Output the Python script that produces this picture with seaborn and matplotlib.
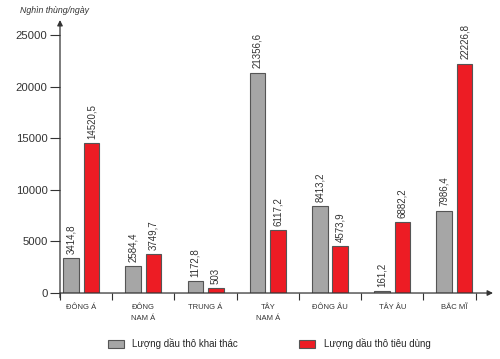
import pandas as pd
import seaborn as sns
import matplotlib.pyplot as plt
from matplotlib.patches import Patch

regions = ['ĐÔNG Á', 'ĐÔNG\nNAM Á', 'TRUNG Á', 'TÂY\nNAM Á', 'ĐÔNG ÂU', 'TÂY ÂU', 'BẮC MĨ']
khai_thac = [3414.8, 2584.4, 1172.8, 21356.6, 8413.2, 161.2, 7986.4]
tieu_dung = [14520.5, 3749.7, 503, 6117.2, 4573.9, 6882.2, 22226.8]
series = ['Lượng dầu thô khai thác', 'Lượng dầu thô tiêu dùng']
colors = ['#a6a6a6', '#ed1c24']
yticks = [0, 5000, 10000, 15000, 20000, 25000]

df = pd.DataFrame({'Khu vực': regions * 2,
                   'Giá trị': khai_thac + tieu_dung,
                   'Loại': [series[0]] * 7 + [series[1]] * 7})

sns.set_style('white')
plt.rcParams['font.family'] = ['Liberation Sans Narrow', 'Liberation Sans', 'DejaVu Sans']

fig = plt.figure(figsize=(5, 3.59), dpi=100)
ax = fig.add_axes([0.12, 0.1838, 0.866, 0.7604])

sns.barplot(data=df, x='Khu vực', y='Giá trị', hue='Loại', palette=colors,
            width=0.66, gap=0.24, edgecolor='#555555', linewidth=0.8,
            saturation=1, ax=ax, legend=False)

# value labels, comma as decimal separator
def fmt(v):
    s = f'{v:.1f}'.replace('.', ',')
    return s[:-2] if s.endswith(',0') else s

for cont, vals in zip(ax.containers, [khai_thac, tieu_dung]):
    ax.bar_label(cont, labels=[fmt(v) for v in vals], rotation=90,
                 padding=3, fontsize=7, color='#333333')

ax.set_xlim(-0.34, 6.62)
ax.set_ylim(0, 26450)
ax.set_yticks(yticks)
ax.set_yticklabels([str(t) for t in yticks], fontsize=8.2, color='#333333')
ax.tick_params(axis='y', direction='out', length=7, width=0.8, color='#333333', pad=2, left=True)

ax.set_xticks(range(7))
ax.set_xticklabels(regions, fontsize=5.5, color='#333333', linespacing=1.8, va='top')
ax.tick_params(axis='x', length=0, pad=8)
ax.set_xticks([-0.34, 0.5, 1.5, 2.5, 3.5, 4.5, 5.5, 6.34], minor=True)
ax.tick_params(axis='x', which='minor', direction='out', length=5, width=0.8, color='#333333', bottom=True)

ax.set_xlabel('')
ax.set_ylabel('')
for s in ax.spines.values():
    s.set_visible(False)

# axes with arrows
ax.annotate('', xy=(6.62, 0), xytext=(-0.34, 0), xycoords='data',
            arrowprops=dict(arrowstyle='-|>', color='#333333', lw=0.9, mutation_scale=8,
                            shrinkA=0, shrinkB=0), annotation_clip=False)
ax.annotate('', xy=(-0.34, 26450), xytext=(-0.34, -450), xycoords='data',
            arrowprops=dict(arrowstyle='-|>', color='#333333', lw=0.9, mutation_scale=8,
                            shrinkA=0, shrinkB=0), annotation_clip=False)

fig.text(0.04, 0.97, 'Nghìn thùng/ngày', fontsize=6.3, style='italic', color='#333333', va='center')

handles = [Patch(facecolor=c, edgecolor='#555555', linewidth=0.8) for c in colors]
fig.legend(handles, series, loc='center left', bbox_to_anchor=(0.215, 0.042), ncol=2,
           frameon=False, fontsize=7, handlelength=1.65, handleheight=0.95,
           handletextpad=0.9, columnspacing=6.3, borderpad=0, borderaxespad=0)

fig.savefig('out.png', dpi=100)
